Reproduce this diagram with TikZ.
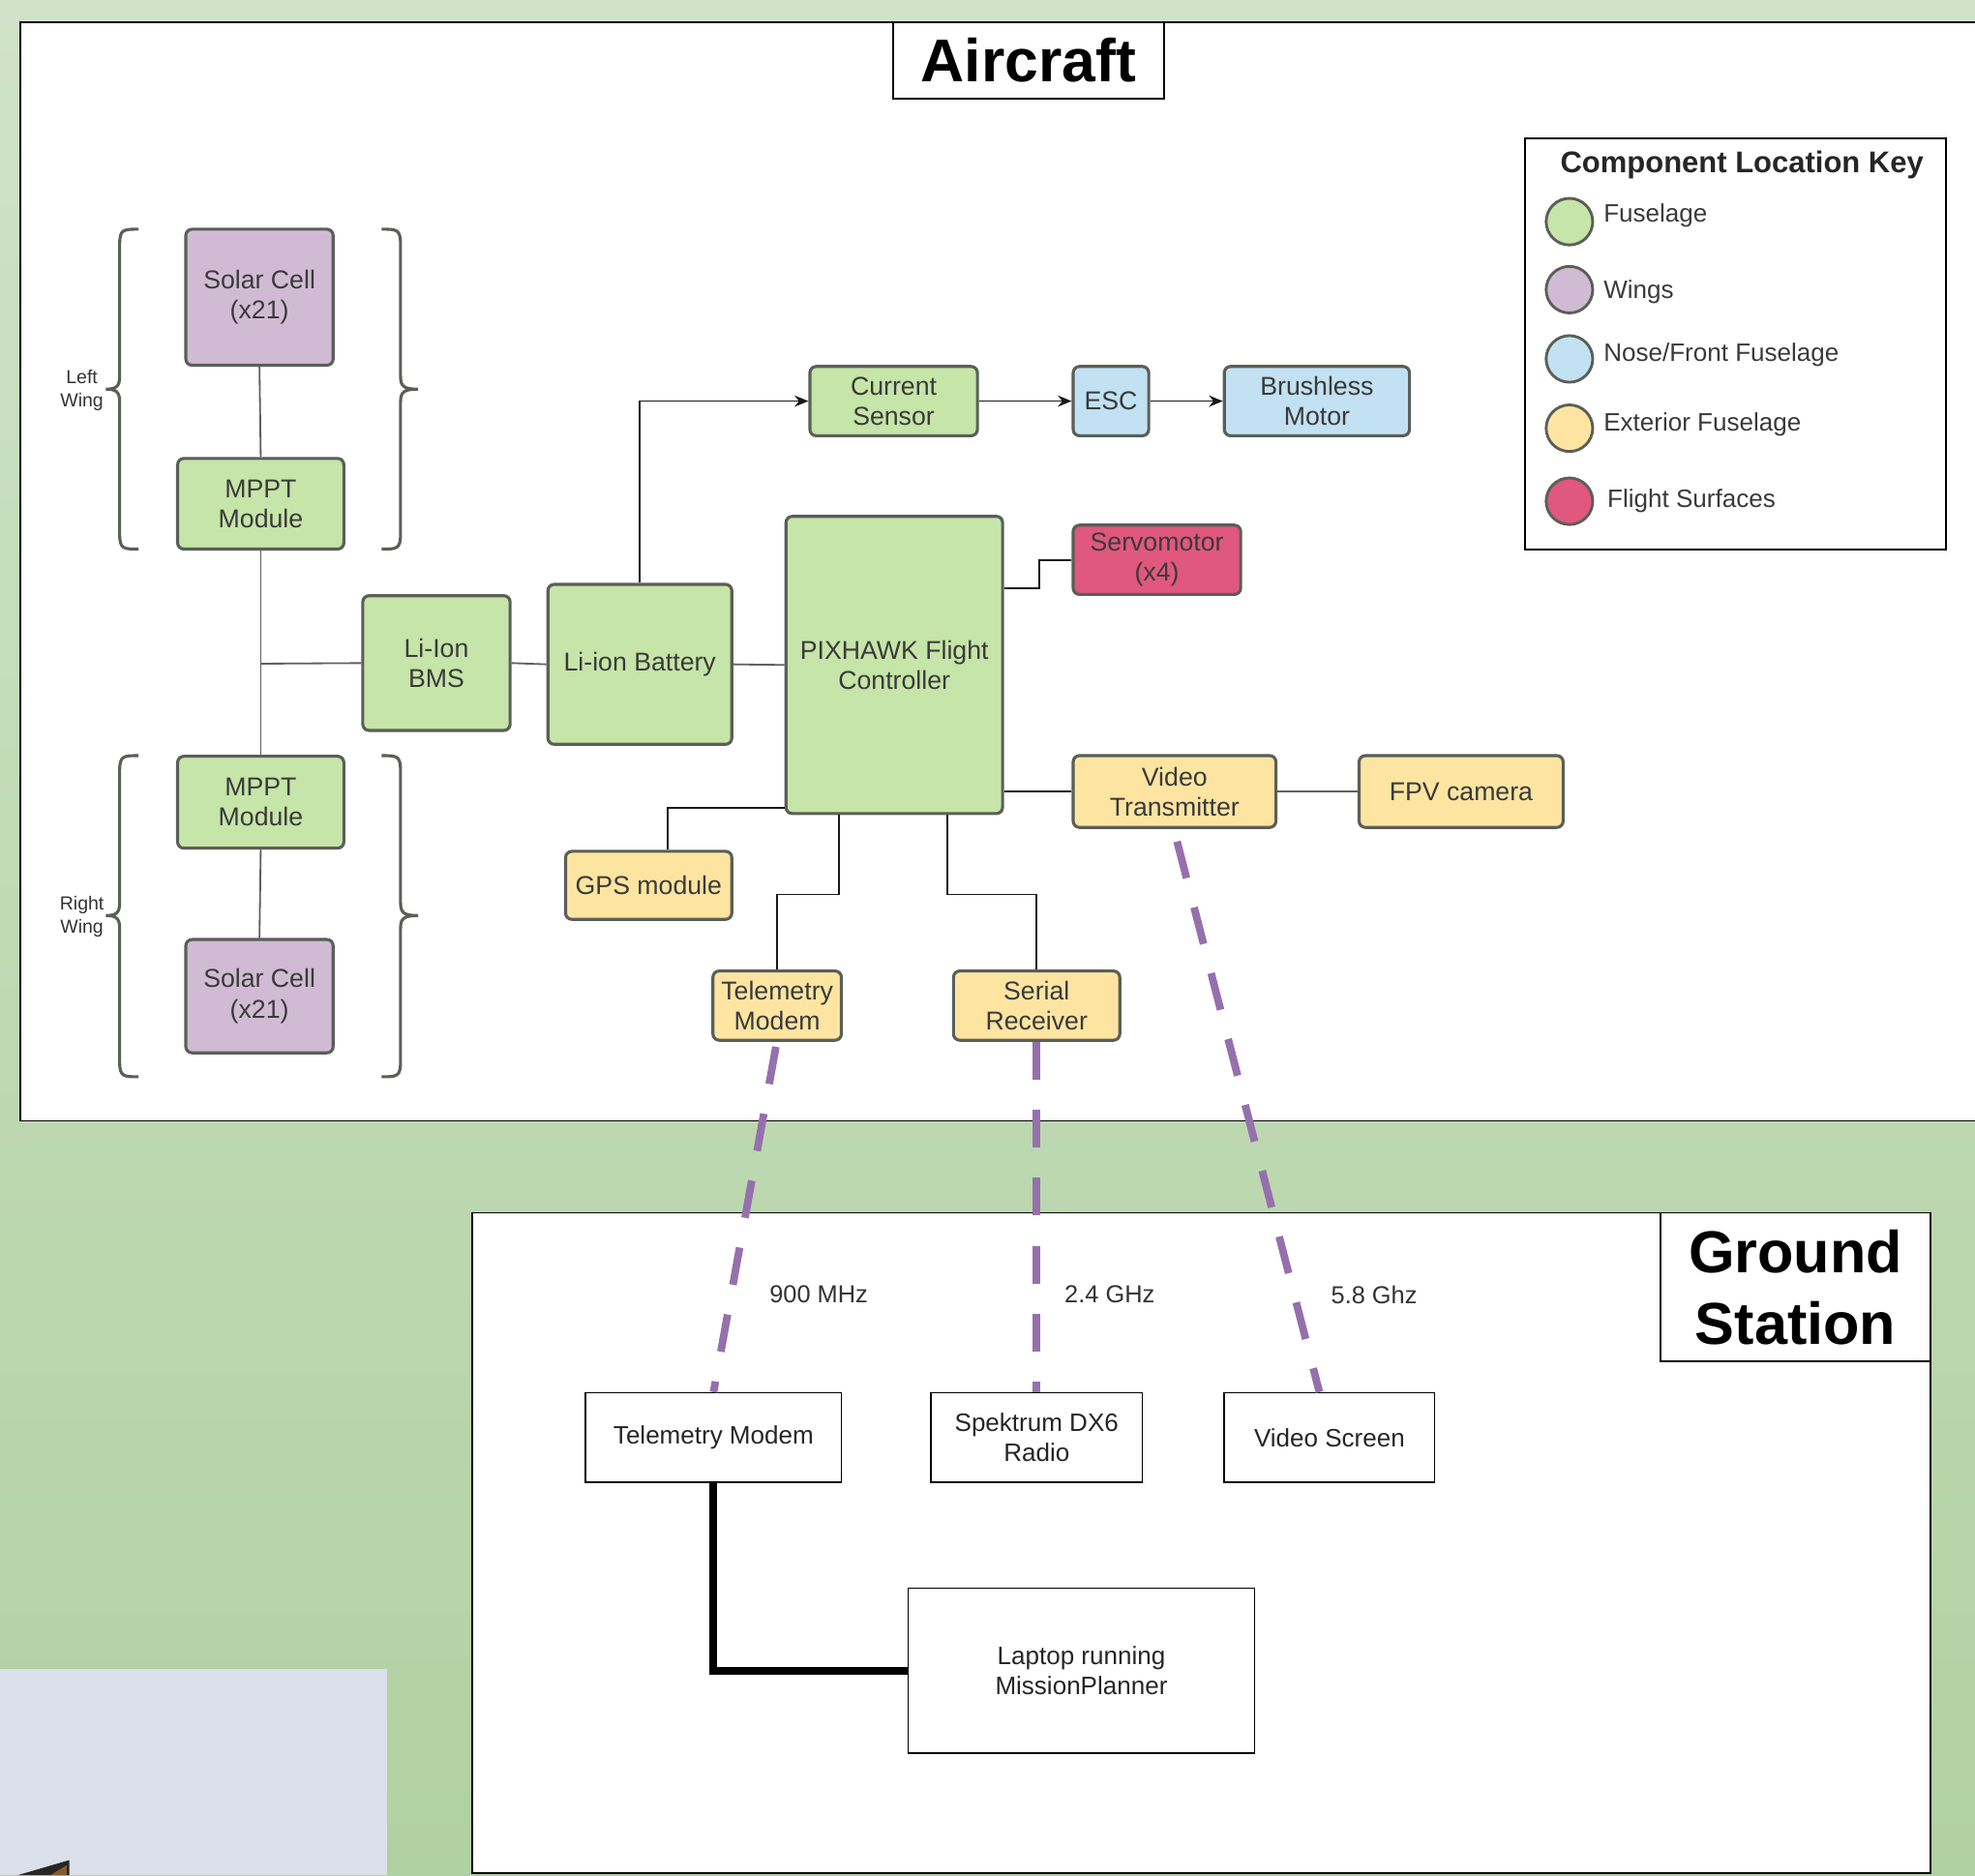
\documentclass[tikz,border=0pt]{standalone}
\usepackage{fontspec}
\setmainfont{Liberation Sans}
\usetikzlibrary{arrows.meta,calc}
\definecolor{bgtop}{HTML}{D0E3C8}
\definecolor{bgbot}{HTML}{B0D1A1}
\definecolor{fgreen}{HTML}{C6E5A8}
\definecolor{fpurple}{HTML}{D1BBD4}
\definecolor{fblue}{HTML}{C2E1F3}
\definecolor{fyellow}{HTML}{FDE5A1}
\definecolor{fred}{HTML}{E0577F}
\definecolor{edgegray}{HTML}{5A5F58}
\definecolor{txt}{HTML}{3A3A3A}
\definecolor{radio}{HTML}{9670AC}
\definecolor{photo}{HTML}{DCE0EA}
\newcommand\LeftBr[3]{% y0 y1 ym
  \draw[brace] (110,#1) .. controls (98,#1) and (95,#1) .. (95,#1+12) -- (95,#3-10)
    .. controls (95,#3-2) and (92,#3) .. (84,#3)
    .. controls (92,#3) and (95,#3+2) .. (95,#3+10) -- (95,#2-12)
    .. controls (95,#2) and (98,#2) .. (110,#2);}
\newcommand\RightBr[3]{%
  \draw[brace] (303,#1) .. controls (315,#1) and (318,#1) .. (318,#1+12) -- (318,#3-10)
    .. controls (318,#3-2) and (321,#3) .. (332,#3)
    .. controls (321,#3) and (318,#3+2) .. (318,#3+10) -- (318,#2-12)
    .. controls (318,#2) and (315,#2) .. (303,#2);}
\begin{document}
\begin{tikzpicture}[x=1pt,y=-1pt,
  comp/.style={draw=edgegray, line width=2.4pt, rounded corners=5pt, align=center, text=txt, font=\fontsize{20.5}{24}\selectfont, inner sep=0pt},
  gnode/.style={draw=black, line width=1.2pt, fill=white, align=center, text=black!85, font=\fontsize{20}{24}\selectfont, inner sep=0pt},
  wire/.style={draw=black!90, line width=1.4pt},
  gwire/.style={draw=gray!75!black, line width=1.4pt},
  arr/.style={wire, -{Stealth[length=11pt,width=9pt]}},
  radiolink/.style={draw=radio, line width=6pt, dash pattern=on 30pt off 24pt},
  brace/.style={draw=edgegray, line width=2.4pt},
  keytext/.style={font=\fontsize{20}{24}\selectfont, text=txt, anchor=west, inner sep=0pt},
  keydot/.style={circle, draw=edgegray, line width=2.2pt, minimum size=37pt, inner sep=0pt},
  flabel/.style={font=\fontsize{19.5}{22}\selectfont, text=black!80, inner sep=0pt},
]
\useasboundingbox (0,0) rectangle (1568,1489);
\clip (0,0) rectangle (1568,1489);
% background
\shade[top color=bgtop, bottom color=bgbot] (0,0) rectangle (1568,1489);
% photo remnant at bottom left
\fill[photo] (0,1325) rectangle (307,1489);
\fill[black!85] (14,1489) -- (55,1477) -- (55,1489) -- cycle;
\fill[brown!70!black] (40,1489) -- (53,1481) -- (53,1489) -- cycle;

% ================= Aircraft panel =================
\draw[fill=white, line width=1.5pt] (16,18) rectangle (1590,890);
\node[draw, line width=1.5pt, fill=white, minimum width=215pt, minimum height=60pt, inner sep=0pt,
  font=\bfseries\fontsize{48}{50}\selectfont] (actitle) at (816.5,48) {Aircraft};

% legend
\draw[line width=1.5pt] (1211,110) rectangle (1545,436);
\node[font=\bfseries\fontsize{23.8}{26}\selectfont, text=black!85, inner sep=0pt] (keytitle) at (1383,131) {Component Location Key};
\node[keydot, fill=fgreen]  (k1) at (1246,176) {};
\node[keydot, fill=fpurple] (k2) at (1246,230) {};
\node[keydot, fill=fblue]   (k3) at (1246,285) {};
\node[keydot, fill=fyellow] (k4) at (1246,340) {};
\node[keydot, fill=fred]    (k5) at (1246,398) {};
\node[keytext] (kt1) at (1273,171) {Fuselage};
\node[keytext] (kt2) at (1273,232) {Wings};
\node[keytext] (kt3) at (1273,282) {Nose/Front Fuselage};
\node[keytext] (kt4) at (1273,337) {Exterior Fuselage};
\node[keytext] (kt5) at (1276,398) {Flight Surfaces};

% wing braces
\LeftBr{182}{436}{309}
\RightBr{182}{436}{309}
\LeftBr{600}{855}{727}
\RightBr{600}{855}{727}
\node[align=center, font=\fontsize{15}{18}\selectfont, text=black!80, inner sep=0pt] (lw) at (65,310) {Left\\Wing};
\node[align=center, font=\fontsize{15}{18}\selectfont, text=black!80, inner sep=0pt] (rw) at (65,728) {Right\\Wing};

% components
\node[comp, fill=fpurple, minimum width=117pt, minimum height=108pt] (sc1) at (206,236) {Solar Cell\\(x21)};
\node[comp, fill=fgreen, minimum width=132pt, minimum height=72pt] (mp1) at (207,400) {MPPT\\Module};
\node[comp, fill=fgreen, minimum width=132pt, minimum height=73pt] (mp2) at (207,637) {MPPT\\Module};
\node[comp, fill=fpurple, minimum width=117pt, minimum height=90pt] (sc2) at (206,791) {Solar Cell\\(x21)};
\node[comp, fill=fgreen, minimum width=117pt, minimum height=107pt] (bms) at (346.5,526.5) {Li-Ion\\BMS};
\node[comp, fill=fgreen, minimum width=146pt, minimum height=127pt] (bat) at (508,527.5) {Li-ion Battery};
\node[comp, fill=fgreen, minimum width=172pt, minimum height=236pt] (px) at (710,528) {PIXHAWK Flight\\Controller};
\node[comp, fill=fgreen, minimum width=133pt, minimum height=55pt] (cs) at (709.5,318.5) {Current\\Sensor};
\node[comp, fill=fblue, minimum width=60pt, minimum height=55pt] (esc) at (882,318.5) {ESC};
\node[comp, fill=fblue, minimum width=147pt, minimum height=55pt] (bm) at (1045.5,318.5) {Brushless\\Motor};
\node[comp, fill=fred, minimum width=133pt, minimum height=55pt] (servo) at (918.5,444.5) {Servomotor\\(x4)};
\node[comp, fill=fyellow, minimum width=161pt, minimum height=57pt] (vt) at (932.5,628.5) {Video\\Transmitter};
\node[comp, fill=fyellow, minimum width=162pt, minimum height=57pt] (fpv) at (1160,628.5) {FPV camera};
\node[comp, fill=fyellow, minimum width=132pt, minimum height=54pt] (gps) at (515,703) {GPS module};
\node[comp, fill=fyellow, minimum width=102pt, minimum height=55pt] (tm) at (617,798.5) {Telemetry\\Modem};
\node[comp, fill=fyellow, minimum width=132pt, minimum height=55pt] (sr) at (823,798.5) {Serial\\Receiver};

% aircraft connectors
\coordinate (jn) at (207,527);
\draw[gwire] (sc1.south) -- (mp1.north);
\draw[gwire] (mp1.south) -- (mp2.north);
\draw[gwire] (mp2.south) -- (sc2.north);
\draw[gwire] (jn) -- (bms.west);
\draw[gwire] (bms.east) -- (bat.west);
\draw[gwire] (bat.east) -- (px.west);
\draw[arr] (bat.north) |- (cs.west);
\draw[arr] (cs.east) -- (esc.west);
\draw[arr] (esc.east) -- (bm.west);
\draw[wire] ($(px.north east)+(0,58)$) -- ++(28,0) |- (servo.west);
\draw[wire] (px.east |- vt.west) -- (vt.west);
\draw[gwire] (vt.east) -- (fpv.west);
\draw[wire] ($(px.south west)+(0,-6)$) -| ($(gps.north)+(15,0)$);
\draw[wire] ($(px.south west)+(43,0)$) -- ++(0,63) -| (tm.north);
\draw[wire] ($(px.south west)+(129,0)$) -- ++(0,63) -| (sr.north);

% ================= Ground station panel =================
\draw[fill=white, line width=1.5pt] (375,963) rectangle (1533,1487);
\node[draw, line width=1.5pt, fill=white, minimum width=215pt, minimum height=118pt, inner sep=0pt, align=center,
  font=\bfseries\fontsize{47}{57}\selectfont] (gstitle) at (1425.5,1022) {Ground\\Station};

\node[gnode, minimum width=203pt, minimum height=71pt] (gtm) at (566.5,1141.5) {Telemetry Modem};
\node[gnode, minimum width=168pt, minimum height=71pt] (gradio) at (823,1141.5) {Spektrum DX6\\Radio};
\node[gnode, minimum width=167pt, minimum height=71pt] (gvideo) at (1055.5,1141.5) {Video Screen};
\node[gnode, minimum width=275pt, minimum height=131pt] (glaptop) at (858.5,1326.5) {Laptop running\\MissionPlanner};

\draw[line width=6pt] (gtm.south) |- (glaptop.west);

% radio links
\draw[radiolink] ($(tm.south)+(-1,4)$) -- (gtm.north);
\draw[radiolink] (sr.south) -- (gradio.north);
\draw[radiolink] ($(vt.south)+(2,10)$) -- ($(gvideo.north)+(-8,0)$);

\node[flabel] (f1) at (650,1028) {900 MHz};
\node[flabel] (f2) at (881,1028) {2.4 GHz};
\node[flabel] (f3) at (1091,1028) {5.8 Ghz};
\end{tikzpicture}
\end{document}
